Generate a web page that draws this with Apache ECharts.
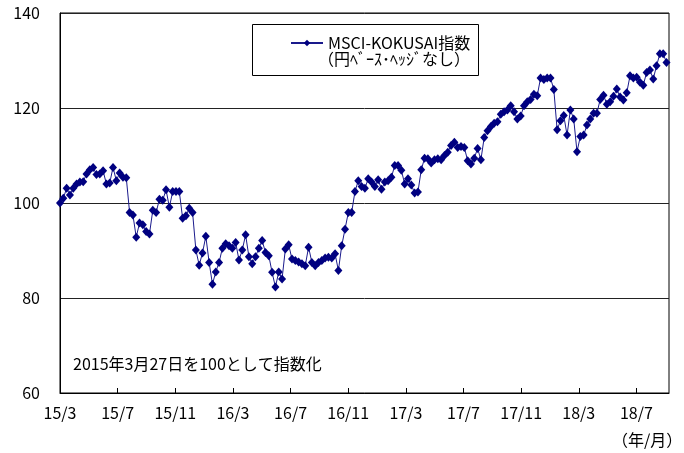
<!DOCTYPE html>
<html>
<head>
<meta charset="utf-8">
<script src="https://cdn.jsdelivr.net/npm/echarts@6/dist/echarts.min.js"></script>
<style>
  html, body { margin: 0; padding: 0; background: #fff; }
  #main { width: 684px; height: 453px; }
</style>
</head>
<body>
<div id="main"></div>
<script>
// weekly closes, first week = 2015/3/27 (=100)
var startDate = '2015-03-27'
var values = [
  100.0, 101.0, 103.1, 101.7, 103.1, 104.0, 104.4, 104.5, 106.1, 107.0,
  107.5, 106.0, 106.1, 106.8, 104.0, 104.2, 107.5, 104.7, 106.3, 105.4,
  105.3, 98.0, 97.5, 92.8, 95.8, 95.4, 94.0, 93.5, 98.5, 98.0,
  100.8, 100.6, 102.8, 99.1, 102.4, 102.4, 102.4, 96.8, 97.3, 98.9,
  98.0, 90.1, 86.9, 89.5, 93.0, 87.5, 82.9, 85.5, 87.5, 90.5,
  91.4, 91.0, 90.5, 91.7, 88.0, 90.1, 93.3, 88.7, 87.2, 88.7,
  90.5, 92.1, 89.6, 88.9, 85.4, 82.3, 85.5, 84.0, 90.3, 91.2,
  88.2, 87.9, 87.6, 87.2, 86.8, 90.7, 87.5, 86.8, 87.5, 87.9,
  88.4, 88.6, 88.4, 89.3, 85.8, 91.0, 94.5, 98.0, 98.0, 102.4,
  104.7, 103.5, 103.1, 105.1, 104.4, 103.5, 104.9, 102.9, 104.4, 104.7,
  105.4, 107.9, 107.9, 106.9, 104.0, 105.1, 103.8, 102.1, 102.3, 107.0,
  109.4, 109.3, 108.4, 109.1, 109.3, 109.1, 110.0, 110.7, 112.1, 112.8,
  111.7, 111.9, 111.7, 108.9, 108.2, 109.4, 111.5, 109.1, 113.8, 115.2,
  116.1, 116.8, 117.1, 118.7, 119.2, 119.6, 120.5, 119.2, 117.7, 118.3,
  120.5, 121.3, 121.8, 122.9, 122.6, 126.3, 126.0, 126.3, 126.3, 123.9,
  115.4, 117.3, 118.4, 114.3, 119.6, 117.7, 110.8, 114.0, 114.3, 116.4,
  117.7, 118.9, 118.9, 121.8, 122.7, 120.8, 121.3, 122.5, 124.0, 122.3,
  121.7, 123.2, 126.8, 126.3, 126.5, 125.4, 124.8, 127.5, 128.0, 126.1,
  128.9, 131.4, 131.4, 129.6
]
var seriesName = 'MSCI-KOKUSAI指数'
var seriesSub = '（円ﾍﾞｰｽ･ﾍｯｼﾞなし）'
var note = '2015年3月27日を100として指数化'
var unitLabel = '（年/月）'

var FONT = '"Noto Sans CJK JP", "Noto Sans", sans-serif'
var MONTH = 365.25 / 12

// x = months elapsed since 2015/3/27, so 4-month ticks land on 15/3, 15/7 ...
var data = values.map(function (v, i) {
  return [i * 7 / MONTH, v]
})

function monthLabel(m) {
  if (Math.abs(m % 4) > 1e-6) return ''
  var idx = 2 + Math.round(m)            // 0 -> March 2015
  var y = 15 + Math.floor(idx / 12)
  return y + '/' + (idx % 12 + 1)
}

var myChart = echarts.init(document.getElementById('main'))
myChart.setOption({
  animation: false,
  textStyle: { fontFamily: FONT },
  grid: {
    left: 60, right: 15, top: 13, bottom: 60,
    show: true, borderColor: '#000', borderWidth: 1
  },
  legend: {
    left: 285, top: 30,
    itemWidth: 32, itemHeight: 8, itemGap: 4,
    textStyle: { fontSize: 16, color: '#000', fontFamily: FONT },
    data: [seriesName]
  },
  xAxis: {
    type: 'value',
    min: 0, max: 42.26, interval: 4,
    axisLine: { lineStyle: { color: '#000', width: 1 } },
    axisTick: { inside: true, length: 5, lineStyle: { color: '#000' } },
    axisLabel: {
      margin: 12, fontSize: 16, color: '#000', fontFamily: FONT,
      showMaxLabel: false,
      formatter: monthLabel
    },
    splitLine: { show: false }
  },
  yAxis: {
    type: 'value',
    min: 60, max: 140, interval: 20,
    axisLine: { show: true, lineStyle: { color: '#000', width: 1 } },
    axisTick: { show: false },
    axisLabel: { margin: 20, fontSize: 16, color: '#000', fontFamily: FONT },
    splitLine: { lineStyle: { color: '#222', width: 1 } }
  },
  graphic: [
    {
      type: 'rect', left: 252, top: 24, z: 0,
      shape: { width: 226, height: 51 },
      style: { fill: '#fff', stroke: '#000', lineWidth: 1 }
    },
    {
      type: 'text', left: 318, top: 51, z: 10,
      style: { text: seriesSub, fontSize: 16, fill: '#000', fontFamily: FONT }
    },
    {
      type: 'text', left: 73, top: 356, z: 10,
      style: { text: note, fontSize: 16, fill: '#000', fontFamily: FONT }
    },
    {
      type: 'text', left: 612, top: 432, z: 10,
      style: { text: unitLabel, fontSize: 16, fill: '#000', fontFamily: FONT }
    }
  ],
  series: [{
    name: seriesName,
    type: 'line',
    data: data,
    symbol: 'diamond',
    symbolSize: [8, 9],
    z: 5,
    lineStyle: { color: '#1a1a8c', width: 1 },
    itemStyle: { color: '#000080', borderWidth: 0 }
  }]
})
</script>
</body>
</html>
